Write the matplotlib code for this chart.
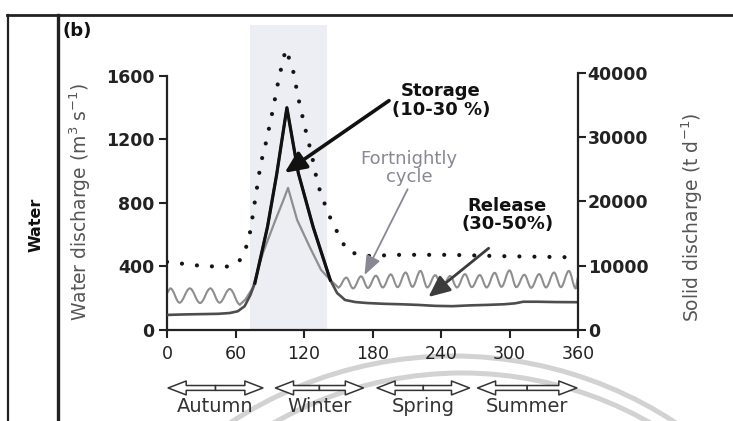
import matplotlib

matplotlib.use("Agg")
import matplotlib.pyplot as plt
from matplotlib.lines import Line2D
from matplotlib.patches import Arc, FancyArrowPatch, PathPatch
from matplotlib.path import Path
from matplotlib.transforms import blended_transform_factory

plt.rcParams["font.family"] = ["DejaVu Sans"]

# - Data (day of year)

# water discharge, fortnightly cycle (extrema of the wave, m3/s)
wave_left_days = [0, 3, 11, 20, 29, 38, 46, 55, 64]
wave_left_vals = [235, 262, 172, 262, 170, 262, 172, 258, 160]

# water discharge around the winter flood
flood_days = [64, 69, 75, 84, 95, 102, 106, 114, 125, 135, 143, 150]
flood_vals = [160, 195, 265, 485, 693, 819, 895, 693, 523, 378, 315, 268]

wave_right_days = [150, 157, 163, 170, 176, 183, 189, 196, 202, 209, 215, 222, 228, 235, 241,
                   248, 254, 261, 267, 274, 280, 287, 293, 300, 306, 313, 319, 326, 332, 339,
                   345, 352, 358, 360]
wave_right_vals = [268, 330, 262, 338, 265, 342, 268, 350, 270, 362, 272, 372, 268, 345, 266,
                   340, 268, 352, 270, 346, 268, 360, 272, 375, 270, 348, 266, 352, 268, 362,
                   270, 372, 262, 330]

# mean water discharge (storage/release scenario), m3/s
base_days = [0, 15, 30, 45, 55, 62, 68, 73, 77, 88, 96, 105, 115, 128, 143, 149, 156, 165,
             175, 190, 205, 220, 235, 250, 265, 280, 295, 305, 312, 325, 340, 360]
base_vals = [95, 98, 100, 102, 107, 118, 150, 220, 296, 649, 977, 1400, 989, 649, 315, 233,
             189, 176, 170, 165, 162, 158, 152, 150, 155, 158, 162, 168, 178, 178, 176, 175]
storage_window = (77, 143)

# solid discharge, t/d (right axis)
solid_days = [0, 29, 51, 62, 68, 73, 78, 82, 87, 93, 98, 104, 110, 115, 121, 127, 132, 141,
              152, 158, 172, 204, 248, 292, 360]
solid_vals = [10600, 10000, 9800, 10400, 12000, 15400, 21200, 25800, 29400, 34500, 39200,
              43700, 40800, 36100, 31400, 27100, 22700, 18200, 14200, 12300, 11500, 11700,
              11700, 11500, 11300]

flood_span = (73, 140)

season_names = ["Autumn", "Winter", "Spring", "Summer"]
season_start = [1, 95, 184, 272]
season_end = [84, 172, 265, 359]

x_ticks = [0, 60, 120, 180, 240, 300, 360]
left_ticks = [0, 400, 800, 1200, 1600]
right_ticks = [0, 10000, 20000, 30000, 40000]


def smooth_wave(days, vals):
    # cubic segments with flat tangents at each extremum
    verts = [(days[0], vals[0])]
    codes = [Path.MOVETO]
    for x0, y0, x1, y1 in zip(days[:-1], vals[:-1], days[1:], vals[1:]):
        dx = x1 - x0
        verts += [(x0 + 0.364 * dx, y0), (x1 - 0.364 * dx, y1), (x1, y1)]
        codes += [Path.CURVE4] * 3
    return Path(verts, codes)


def fx(px):
    return px / 733


def fy(py):
    return 1 - py / 421


# - Figure

fig = plt.figure(figsize=(7.33, 4.21), dpi=100)
ax = fig.add_axes([fx(167), fy(330), 411 / 733, 305 / 421])
ax2 = ax.twinx()

ax.axvspan(*flood_span, color="#eceef3", lw=0, zorder=0)

gray = "#8e8e8e"
ax.add_patch(PathPatch(smooth_wave(wave_left_days, wave_left_vals), fill=False, ec=gray, lw=1.5, zorder=2))
ax.add_patch(PathPatch(smooth_wave(wave_right_days, wave_right_vals), fill=False, ec=gray, lw=1.5, zorder=2))
ax.plot(flood_days, flood_vals, color=gray, lw=1.6, zorder=2)

ax.plot(base_days, base_vals, color="#4d4d4d", lw=1.9, zorder=3)
peak = [(d, v) for d, v in zip(base_days, base_vals) if storage_window[0] <= d <= storage_window[1]]
ax.plot([p[0] for p in peak], [p[1] for p in peak], color="#111111", lw=2.3, zorder=4)

ax2.plot(solid_days, solid_vals, color="#151515", lw=3.0, linestyle=(0, (0.01, 3.6)),
         dash_capstyle="round")

# - Axes styling

ax.set_xlim(0, 360)
ax.set_ylim(0, 1921)
ax2.set_ylim(0, 47470)

for s in ["top", "right"]:
    ax.spines[s].set_visible(False)
for s in ["top", "left", "bottom"]:
    ax2.spines[s].set_visible(False)
ax.spines["left"].set_bounds(0, 1600)
ax2.spines["right"].set_bounds(0, 40000)
for sp in [ax.spines["left"], ax.spines["bottom"], ax2.spines["right"]]:
    sp.set_linewidth(1.6)
    sp.set_color("#222222")

ax.set_xticks(x_ticks)
ax.set_yticks(left_ticks)
ax2.set_yticks(right_ticks)
ax.tick_params(axis="x", length=6, width=1.5, labelsize=12.5, pad=5, colors="#222222")
ax.tick_params(axis="y", length=6, width=1.5, labelsize=12.5, pad=3, colors="#222222")
ax2.tick_params(axis="y", length=6, width=1.5, labelsize=12.5, pad=1, colors="#222222")
for lab in ax.get_yticklabels() + ax2.get_yticklabels():
    lab.set_fontweight("bold")

fig.text(fx(80), fy(202), "Water discharge (m$^3$ s$^{-1}$)", rotation=90, ha="center", va="center",
         fontsize=13.5, color="#555555")
fig.text(fx(692), fy(217), "Solid discharge (t d$^{-1}$)", rotation=90, ha="center", va="center",
         fontsize=13.5, color="#555555")

# - Annotations

ax2.annotate("Storage\n(10-30 %)", xy=(103, 990), xycoords=ax.transData, xytext=(240, 1445),
             textcoords=ax.transData, ha="center", va="center", fontsize=13, fontweight="bold",
             color="#111111", linespacing=1.05,
             arrowprops=dict(arrowstyle="-|>,head_length=1.0,head_width=0.45", lw=2.6, color="#111111",
                             shrinkA=0, shrinkB=0, relpos=(0.0, 0.55)))
ax2.annotate("Fortnightly\ncycle", xy=(173, 346), xycoords=ax.transData, xytext=(212, 1020),
             textcoords=ax.transData, ha="center", va="center", fontsize=13, color="#8a8794",
             linespacing=1.05,
             arrowprops=dict(arrowstyle="-|>,head_length=0.9,head_width=0.35", lw=1.3, color="#8a8794",
                             shrinkA=0, shrinkB=0, relpos=(0.5, 0.0)))
ax2.annotate("Release\n(30-50%)", xy=(229, 208), xycoords=ax.transData, xytext=(298, 725),
             textcoords=ax.transData, ha="center", va="center", fontsize=13, fontweight="bold",
             color="#111111", linespacing=1.05,
             arrowprops=dict(arrowstyle="-|>,head_length=1.0,head_width=0.45", lw=2.0, color="#3c3c3c",
                             shrinkA=14, shrinkB=0, relpos=(0.5, 0.0)))

# - Seasons below the x axis

trans = blended_transform_factory(ax.transData, ax.transAxes)
for name, s, e in zip(season_names, season_start, season_end):
    mid = (s + e) / 2
    for end in (s, e):
        ax.add_artist(FancyArrowPatch((mid, -0.19), (end, -0.19), transform=trans,
                                      arrowstyle="simple,head_length=1.3,head_width=1.0,tail_width=0.35",
                                      mutation_scale=10, fc="white", ec="#333333", lw=1.1,
                                      shrinkA=0, shrinkB=0, clip_on=False))
    ax.text(mid, -0.252, name, transform=trans, ha="center", va="center", fontsize=14, color="#333333")

# - Panel frame

fig.add_artist(Line2D([fx(7), 1], [fy(15), fy(15)], color="#222222", lw=2))
fig.add_artist(Line2D([fx(8), fx(8)], [fy(15), 0], color="#222222", lw=1.6))
fig.add_artist(Line2D([fx(58), fx(58)], [fy(15), 0], color="#222222", lw=2.4))
fig.text(fx(62), fy(31), "(b)", ha="left", va="center", fontsize=13, fontweight="bold", color="#111111")
fig.text(fx(36), fy(225), "Water", rotation=90, ha="center", va="center", fontsize=11.5,
         fontweight="bold", color="#111111")

# scan artefact: two grey arcs at the bottom
for cx, cy, r in [(453, 761, 405), (462, 753, 380)]:
    fig.add_artist(Arc((fx(cx), fy(cy)), 2 * r / 733, 2 * r / 421, theta1=0, theta2=180,
                       transform=fig.transFigure, color="#d2d2d2", lw=3.6, zorder=-1))

fig.savefig("out.png", dpi=100)
